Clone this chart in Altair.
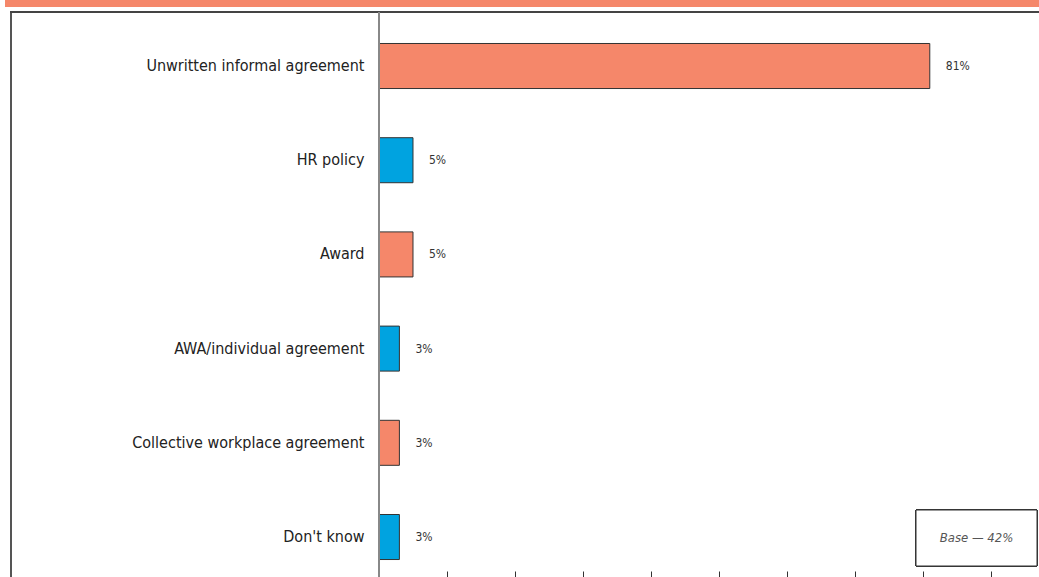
import altair as alt
import pandas as pd

categories = ["Unwritten informal agreement", "HR policy", "Award",
              "AWA/individual agreement", "Collective workplace agreement", "Don't know"]
values = [81, 5, 5, 3, 3, 3]
labels = ["81%", "5%", "5%", "3%", "3%", "3%"]
groups = ["a", "b", "a", "b", "a", "b"]
tick_values = [0, 10, 20, 30, 40, 50, 60, 70, 80, 90]

SALMON = "#F5876A"
BLUE = "#00A3E0"
FONT = "'DejaVu Sans Condensed', 'Roboto Condensed', Roboto, sans-serif"

df = pd.DataFrame({"cat": categories, "val": values, "lab": labels, "grp": groups})

W, H = 660, 559

x_scale = alt.Scale(domain=[0, 97.06], nice=False, zero=True)
y_scale = alt.Scale(domain=categories, paddingInner=0.522, paddingOuter=0.228, align=0.733)

bars = alt.Chart(df).mark_bar(stroke="#333333", strokeWidth=1).encode(
    x=alt.X("val:Q", scale=x_scale,
            axis=alt.Axis(values=tick_values, labels=False, domain=False, grid=False,
                          ticks=True, tickSize=7, tickColor="#333333", title=None)),
    y=alt.Y("cat:N", scale=y_scale, sort=categories,
            axis=alt.Axis(title=None, domain=False, ticks=False, labelPadding=15,
                          labelFont=FONT, labelFontSize=16, labelColor="#222222",
                          labelLimit=400)),
    color=alt.Color("grp:N", scale=alt.Scale(domain=["a", "b"], range=[SALMON, BLUE]), legend=None),
)

text = alt.Chart(df).mark_text(align="left", baseline="middle", dx=16, font=FONT,
                               fontSize=12, color="#333333").encode(
    x=alt.X("val:Q", scale=x_scale),
    y=alt.Y("cat:N", scale=y_scale, sort=categories),
    text="lab:N",
)

# y-axis line
yline = alt.Chart(df).mark_rule(color="#888888", strokeWidth=1.5).encode(
    x=alt.value(0), y=alt.value(0), y2=alt.value(H + 8))

# outer frame (left and top)
frame_left = alt.Chart(df).mark_rule(color="#555555", strokeWidth=2).encode(
    x=alt.value(-368), y=alt.value(0), y2=alt.value(H + 8))
frame_top = alt.Chart(df).mark_rule(color="#444444", strokeWidth=2).encode(
    x=alt.value(-369), x2=alt.value(W), y=alt.value(0))

# salmon header band
band = alt.Chart(df).mark_rect(color=SALMON).encode(
    x=alt.value(-374), x2=alt.value(W), y=alt.value(-12), y2=alt.value(-5))

# base note box
base_box = alt.Chart(df).mark_rect(fill="white", stroke="#333333", strokeWidth=1).encode(
    x=alt.value(537), x2=alt.value(658), y=alt.value(498), y2=alt.value(554))
base_text = alt.Chart(pd.DataFrame({"t": ["Base — 42%"]})).mark_text(
    font=FONT, fontSize=13, fontStyle="italic", color="#555555",
    align="center", baseline="middle").encode(
    x=alt.value(597.5), y=alt.value(526), text="t:N")

chart = alt.layer(band, frame_left, frame_top, bars, text, yline, base_box, base_text).properties(
    width=W, height=H,
    padding={"left": 379, "top": 12, "right": 0, "bottom": 6},
    autosize=alt.AutoSizeParams(type="none"),
    background="white",
).configure_view(stroke=None)

chart.save("out.html", embed_options={"renderer": "svg", "actions": False})
